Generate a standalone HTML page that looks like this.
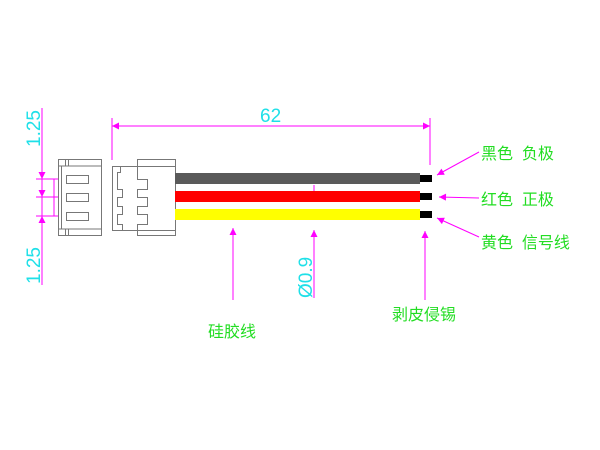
<!DOCTYPE html>
<html><head><meta charset="utf-8"><style>
body{margin:0;background:#fff;width:600px;height:450px;overflow:hidden}
svg{display:block}
.c{font-family:"Liberation Sans",sans-serif;fill:#1fe0e8;font-size:19px}
.g{font-family:"Liberation Sans","Noto Sans CJK SC",sans-serif;fill:#22dd22;font-size:16px;white-space:pre}
</style></head><body>
<svg width="600" height="450" viewBox="0 0 600 450">
<defs><marker id="a" viewBox="0 0 10 10" refX="10" refY="5" markerWidth="9" markerHeight="7" orient="auto-start-reverse" markerUnits="userSpaceOnUse"><path d="M0,0L10,5L0,10z" fill="#f0f"/></marker></defs>
<g stroke="#f0f" stroke-width="1" fill="none">
<line x1="42" y1="108" x2="42" y2="285"/>
<line x1="36" y1="179" x2="58" y2="179"/><line x1="36" y1="197" x2="58" y2="197"/><line x1="36" y1="216" x2="58" y2="216"/>
<line x1="54" y1="179" x2="54" y2="216"/>
<line x1="42" y1="170" x2="42" y2="179" marker-end="url(#a)"/>
<line x1="42" y1="225" x2="42" y2="216" marker-end="url(#a)"/>
<line x1="42" y1="188" x2="42" y2="197" marker-end="url(#a)"/>
<line x1="112" y1="118" x2="112" y2="160"/><line x1="430" y1="118" x2="430" y2="165"/>
<line x1="112" y1="126" x2="430" y2="126" marker-start="url(#a)" marker-end="url(#a)"/>
<line x1="233" y1="300" x2="233" y2="228" marker-end="url(#a)"/>
<line x1="314" y1="298" x2="314" y2="230" marker-end="url(#a)"/>
<line x1="314" y1="185" x2="314" y2="201" marker-end="url(#a)"/>
<line x1="425" y1="300" x2="425" y2="231" marker-end="url(#a)"/>
<line x1="479" y1="152" x2="437" y2="175" marker-end="url(#a)"/>
<line x1="479" y1="198" x2="439" y2="197" marker-end="url(#a)"/>
<line x1="479" y1="237" x2="437" y2="218" marker-end="url(#a)"/>
</g>
<g stroke="#777" stroke-width="1" fill="none">
<rect x="58.5" y="159.5" width="43" height="76"/>
<line x1="58" y1="166" x2="101" y2="166"/><line x1="58" y1="229" x2="101" y2="229"/>
<line x1="61.5" y1="166" x2="61.5" y2="229"/>
<line x1="65.5" y1="159" x2="65.5" y2="166"/><line x1="68.5" y1="159" x2="68.5" y2="166"/>
<line x1="65.5" y1="229" x2="65.5" y2="235"/><line x1="68.5" y1="229" x2="68.5" y2="235"/>
<rect x="66.5" y="175.5" width="22" height="8"/><rect x="66.5" y="193.5" width="22" height="8"/><rect x="66.5" y="212.5" width="22" height="8"/>
<path d="M112.5,166.5H137.5V159.5H175.5V235.5H137.5V230.5H112.5Z"/>
<path d="M112.5,166.5H120.5V172.5H117.5V189.5H122.5V197.5H117.5V206.5H122.5V214.5H117.5V224.5H122.5V230.5"/>
<path d="M137.5,166.5H175.5M137.5,166.5V179.5H147.5V189.5H137.5V197.5H147.5V206.5H137.5V214.5H147.5V224.5H137.5V230.5H175.5"/>
</g>
<rect x="175" y="173" width="245" height="11" fill="#5a5a5a"/>
<rect x="175" y="191" width="245" height="11" fill="#f00"/>
<rect x="175" y="209" width="245" height="11" fill="#ff0"/>
<rect x="420" y="175" width="12" height="7" fill="#000"/>
<rect x="420" y="193" width="12" height="7" fill="#000"/>
<rect x="420" y="211" width="12" height="7" fill="#000"/>
<text class="c" x="260" y="122">62</text>
<text class="c" transform="translate(40,147) rotate(-90)">1.25</text>
<text class="c" transform="translate(40,284) rotate(-90)">1.25</text>
<text class="c" transform="translate(312,298) rotate(-90)">Ø0.9</text>
<text class="g" x="481" y="159">黑色  负极</text>
<text class="g" x="481" y="205">红色  正极</text>
<text class="g" x="481" y="248">黄色  信号线</text>
<text class="g" x="208" y="337">硅胶线</text>
<text class="g" x="392" y="320">剥皮侵锡</text>
</svg>
</body></html>
